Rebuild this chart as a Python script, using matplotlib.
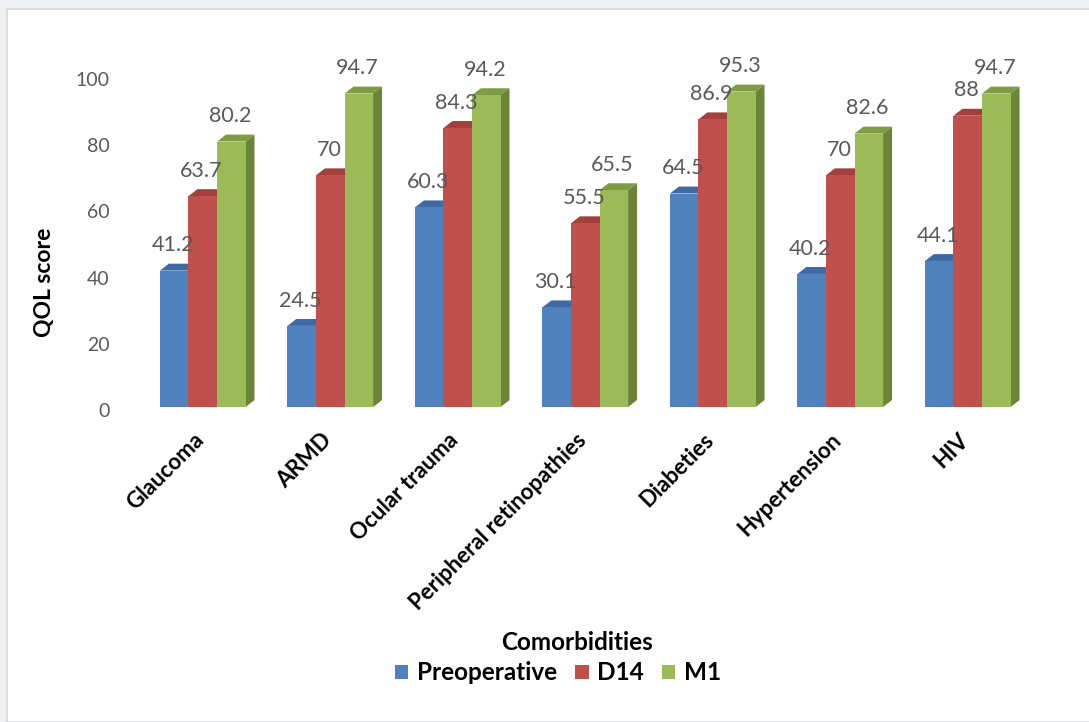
# ----------------------------------------------------------------------------------------------------------------------
#  IMPORT
# ----------------------------------------------------------------------------------------------------------------------
import matplotlib
matplotlib.use("Agg")
import matplotlib.pyplot as plt
import matplotlib.transforms as mtransforms
from matplotlib.patches import Polygon, Rectangle, Patch
import numpy as np

# ----------------------------------------------------------------------------------------------------------------------
#  DATA
# ----------------------------------------------------------------------------------------------------------------------
comorbidities = ['Glaucoma', 'ARMD', 'Ocular trauma', 'Peripheral retinopathies',
                 'Diabeties', 'Hypertension', 'HIV']
preoperative  = [41.2, 24.5, 60.3, 30.1, 64.5, 40.2, 44.1]
d14           = [63.7, 70, 84.3, 55.5, 86.9, 70, 88]
m1            = [80.2, 94.7, 94.2, 65.5, 95.3, 82.6, 94.7]
series_names  = ['Preoperative', 'D14', 'M1']

# ----------------------------------------------------------------------------------------------------------------------
#  STYLE
# ----------------------------------------------------------------------------------------------------------------------
plt.rcParams['font.family'] = ['Lato', 'DejaVu Sans']

front_colors = ['#4f81bd', '#c0504d', '#9bbb59']
top_colors   = ['#3e6ba3', '#a2403d', '#7f9c45']
side_colors  = ['#385d8a', '#8c3a37', '#6b8538']
text_gray    = '#595959'

bar_width = 0.224
depth_x   = 0.07      # 3D depth offset along x (category units)
depth_y   = 2.1       # 3D depth offset along y (score units)

# ----------------------------------------------------------------------------------------------------------------------
#  PLOT
# ----------------------------------------------------------------------------------------------------------------------
fig = plt.figure(figsize=(10.89, 7.22), dpi=100, facecolor='#eef0f2')
panel = Rectangle((7/1089, 0), 1.0, 1 - 9/722, transform=fig.transFigure,
                  facecolor='white', edgecolor='#d6d8db', linewidth=1.2, zorder=-10)
fig.patches.append(panel)

ax = fig.add_axes([139/1089, 1 - 407/722, 892.5/1089, 331/722])
ax.set_facecolor('none')
ax.set_zorder(5)

x = np.arange(len(comorbidities))
all_series = [preoperative, d14, m1]

for j, values in enumerate(all_series):
    for i, v in enumerate(values):
        x0 = x[i] + (j - 1.5) * bar_width
        x1 = x0 + bar_width
        z = 2 + 3 * j
        top  = Polygon([(x0, v), (x1, v), (x1 + depth_x, v + depth_y), (x0 + depth_x, v + depth_y)],
                       closed=True, facecolor=top_colors[j], edgecolor='none', zorder=z)
        side = Polygon([(x1, 0), (x1 + depth_x, depth_y), (x1 + depth_x, v + depth_y), (x1, v)],
                       closed=True, facecolor=side_colors[j], edgecolor='none', zorder=z)
        ax.add_patch(top)
        ax.add_patch(side)
        ax.bar(x0, v, width=bar_width, align='edge', color=front_colors[j], zorder=z + 1)
        ax.annotate(f'{v:g}', xy=(x0 + bar_width / 2, v + depth_y), xytext=(-1, 6),
                    textcoords='offset points', ha='center', va='bottom',
                    fontsize=15.5, color=text_gray, zorder=20, annotation_clip=False)

ax.set_xlim(-0.5, len(comorbidities) - 0.5)
ax.set_ylim(0, 100)
ax.set_yticks([0, 20, 40, 60, 80, 100])
ax.tick_params(axis='y', length=0, labelsize=14, labelcolor=text_gray, pad=21)
ax.set_xticks([])
for s in ax.spines.values():
    s.set_visible(False)

# value axis labels sit a little below the bar scale
shift = mtransforms.ScaledTranslation(0, -3/100, fig.dpi_scale_trans)
for lbl in ax.get_yticklabels():
    lbl.set_transform(lbl.get_transform() + shift)

# rotated category labels below the groups
for i, name in enumerate(comorbidities):
    ax.annotate(name, xy=(x[i], 0), xytext=(-7, -16), textcoords='offset points',
                ha='right', va='top', rotation=45, rotation_mode='anchor',
                fontsize=16, fontweight='bold', color='black', annotation_clip=False)

fig.text(45/1089, 1 - 282/722, 'QOL score', rotation=90, ha='center', va='center',
         fontsize=16.5, fontweight='bold', color='black')
fig.text(577/1089, 1 - 643/722, 'Comorbidities', ha='center', va='center',
         fontsize=17.5, fontweight='bold', color='black')

handles = [Patch(facecolor=c, edgecolor='none', label=n) for c, n in zip(front_colors, series_names)]
leg = fig.legend(handles=handles, loc='center', bbox_to_anchor=(558/1089, 1 - 673/722), ncol=3,
                 frameon=False, handlelength=0.55, handleheight=0.55, handletextpad=0.35,
                 columnspacing=0.75, borderpad=0, prop={'size': 17.5, 'weight': 'bold'})

fig.savefig('out.png', dpi=100, facecolor=fig.get_facecolor())
